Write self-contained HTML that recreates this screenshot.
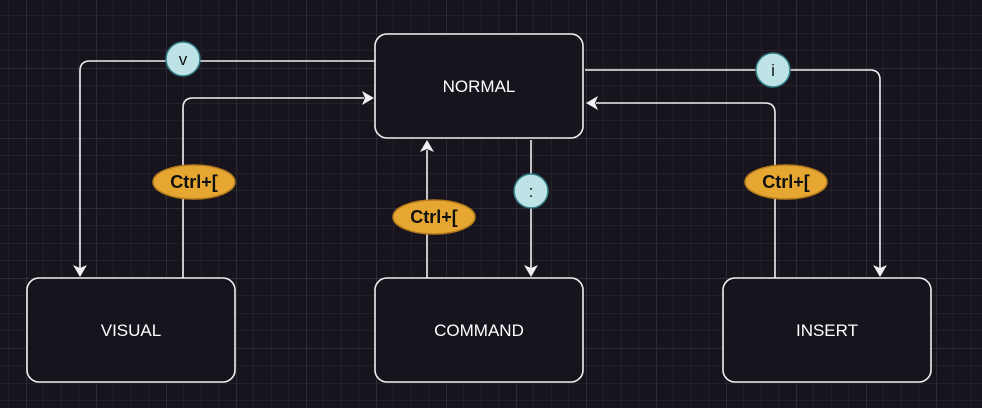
<!DOCTYPE html>
<html><head><style>
html,body{margin:0;padding:0;background:#18141d;}
svg{display:block;}
text{font-family:"Liberation Sans",sans-serif;}
</style></head><body>
<svg width="982" height="408" viewBox="0 0 982 408" xmlns="http://www.w3.org/2000/svg">
<defs>
<pattern id="minor" x="26" y="-2" width="17.5" height="17.5" patternUnits="userSpaceOnUse">
<path d="M0 0H17.5M0 0V17.5" stroke="#302c37" stroke-width="1" fill="none"/>
</pattern>
<pattern id="major" x="26" y="-2" width="70" height="70" patternUnits="userSpaceOnUse">
<path d="M0 0H70M0 0V70" stroke="#45414c" stroke-width="1" fill="none"/>
</pattern>
</defs>
<rect width="982" height="408" fill="#18141d"/>
<rect width="982" height="408" fill="url(#minor)"/>
<rect width="982" height="408" fill="url(#major)"/>
<g stroke="#f0f0f0" stroke-width="1.6" fill="none">
<path d="M375 61H90Q80 61 80 71V268"/>
<path d="M183 278V108Q183 98 193 98H364"/>
<path d="M427 278V150"/>
<path d="M531 140V268"/>
<path d="M585 70H870Q880 70 880 80V268"/>
<path d="M775 278V113Q775 103 765 103H596"/>
</g>
<g fill="#f0f0f0">
<path d="M80 277L73 265L80 268L87 265Z"/>
<path d="M374 98L362 91L365 98L362 105Z"/>
<path d="M427 140L420 152L427 149L434 152Z"/>
<path d="M531 277L524 265L531 268L538 265Z"/>
<path d="M880 277L873 265L880 268L887 265Z"/>
<path d="M586 103L598 96L595 103L598 110Z"/>
</g>
<g fill="#18141d" stroke="#f0f0f0" stroke-width="1.6">
<rect x="375" y="34" width="208" height="104" rx="12"/>
<rect x="27" y="278" width="208" height="104" rx="12"/>
<rect x="375" y="278" width="208" height="104" rx="12"/>
<rect x="723" y="278" width="208" height="104" rx="12"/>
</g>
<g fill="#ffffff" font-size="17" text-anchor="middle">
<text x="479" y="92">NORMAL</text>
<text x="131" y="336">VISUAL</text>
<text x="479" y="336">COMMAND</text>
<text x="827" y="336">INSERT</text>
</g>
<g fill="#bde3e6" stroke="#2d7a82" stroke-width="1.5">
<circle cx="183" cy="59" r="17"/>
<circle cx="531" cy="191" r="17"/>
<circle cx="773" cy="70" r="17"/>
</g>
<g fill="#111" font-size="17" text-anchor="middle">
<text x="183" y="65">v</text>
<text x="531" y="197">:</text>
<text x="773" y="76">i</text>
</g>
<g fill="#e5a632" stroke="#b47a1c" stroke-width="1.5">
<ellipse cx="194" cy="182" rx="41" ry="17"/>
<ellipse cx="434" cy="217" rx="41" ry="17"/>
<ellipse cx="786" cy="182" rx="41" ry="17"/>
</g>
<g fill="#111" font-size="18" font-weight="bold" text-anchor="middle">
<text x="194" y="188">Ctrl+[</text>
<text x="434" y="223">Ctrl+[</text>
<text x="786" y="188">Ctrl+[</text>
</g>
</svg>
</body></html>
